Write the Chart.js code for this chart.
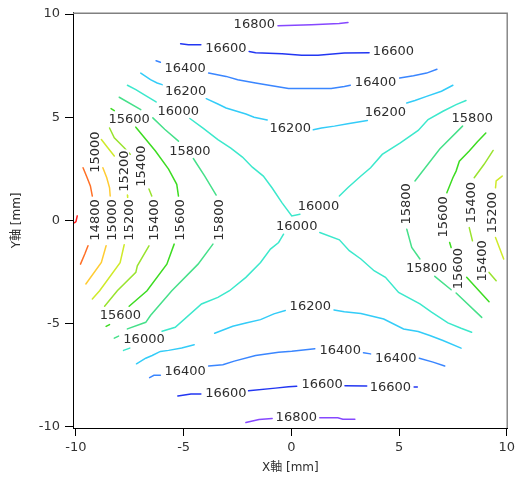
<!DOCTYPE html>
<html><head><meta charset="utf-8">
<script src="https://cdn.jsdelivr.net/npm/chart.js@4/dist/chart.umd.min.js"></script>
<style>html,body{margin:0;padding:0;background:#fff;}canvas{display:block;}</style>
</head><body>
<canvas id="c" width="519" height="477"></canvas>
<script>
// contour levels
const levels = [14600,14800,15000,15200,15400,15600,15800,16000,16200,16400,16600,16800];
const levelColors = ['#ff1a1a','#ff7026','#ffcc33','#cfea2a','#99e32e','#3ddc22','#46e08a','#3ce8cc','#33ccf8','#3a86ff','#2236f2','#8648ff'];
// contour polylines (x mm, y mm), one array of segments per level
const c14600 = [[[-9.94,0.22],[-10.0,-0.06],[-10.06,-0.11]]];
const c14800 = [
 [[-9.67,2.55],[-9.48,2.07],[-9.33,1.67],[-9.24,1.18]],
 [[-9.44,-1.23],[-9.59,-1.63],[-9.79,-2.12]]
];
const c15000 = [
 [[-8.75,2.55],[-8.57,2.07],[-8.44,1.58],[-8.41,1.18]],
 [[-8.60,-1.23],[-8.82,-2.04],[-9.54,-3.08]]
];
const c15200 = [
 [[-8.82,3.92],[-8.54,3.55],[-8.22,3.12]],
 [[-7.61,1.23],[-7.60,1.11]],
 [[-7.76,-1.18],[-7.95,-2.05],[-8.90,-3.41],[-9.24,-3.81]],
 [[9.79,2.15],[9.51,1.91],[9.48,1.58]],
 [[9.48,-0.83],[9.86,-1.87]]
];
const c15400 = [
 [[-8.44,4.48],[-8.22,4.00],[-7.76,3.52],[-7.48,3.21]],
 [[-6.61,1.52],[-6.48,1.18]],
 [[-6.61,-1.23],[-7.15,-2.20],[-7.22,-2.52],[-8.08,-3.41],[-8.67,-4.16]],
 [[9.37,3.39],[8.95,2.72],[8.49,2.07]],
 [[8.26,-0.35],[8.41,-0.99]],
 [[9.18,-2.52],[9.51,-2.92]]
];
const c15600 = [
 [[-8.37,5.42],[-8.22,5.32]],
 [[-7.22,4.52],[-6.31,3.36],[-5.70,2.49],[-5.32,1.75],[-5.24,1.18]],
 [[-5.44,-1.15],[-5.78,-2.12],[-6.70,-3.41],[-7.53,-4.16]],
 [[-8.44,-5.05],[-8.60,-5.14]],
 [[9.03,4.24],[8.64,3.81],[8.26,3.36],[7.80,2.87],[7.65,2.39],[7.50,2.07],[7.22,1.34]],
 [[7.35,-1.07],[7.42,-1.31]],
 [[8.14,-2.76],[9.18,-3.94]]
];
const c15800 = [
 [[-7.99,5.97],[-6.99,5.37]],
 [[-6.43,4.97],[-5.88,4.42],[-5.24,3.84]],
 [[-4.55,3.00],[-4.02,2.15],[-3.49,1.23]],
 [[-3.64,-1.15],[-4.33,-2.12],[-5.55,-3.41],[-6.54,-4.61],[-6.76,-4.94],[-7.61,-5.26]],
 [[-8.02,-5.61],[-8.22,-5.71]],
 [[7.95,4.57],[6.89,3.46],[5.74,1.91]],
 [[5.36,-0.43],[5.59,-1.31],[5.97,-1.87]],
 [[6.66,-2.71],[7.42,-3.36]],
 [[7.65,-3.52],[8.84,-4.70]]
];
const c16000 = [
 [[-7.61,6.55],[-7.22,6.34],[-6.84,6.10],[-6.28,5.74]],
 [[-4.71,4.94],[-4.10,4.47],[-3.41,3.92],[-2.81,3.50],[-2.27,3.07],[-1.81,2.58],[-1.30,2.15],[-0.89,1.57],[-0.43,0.85],[0.02,0.22],[0.40,0.30]],
 [[2.23,1.18],[2.62,1.58],[3.23,2.15],[3.68,2.55],[4.22,3.20],[5.06,3.76],[5.89,4.36],[6.35,4.89],[7.04,5.29],[7.65,5.61],[8.11,5.81]],
 [[-7.79,-6.30],[-7.50,-6.19]],
 [[-6.00,-5.37],[-5.39,-5.18],[-4.17,-4.05],[-3.41,-3.73],[-2.87,-3.41],[-2.11,-2.76],[-1.43,-2.04],[-0.97,-1.39],[-0.59,-1.07],[-0.36,-0.67]],
 [[1.32,-0.59],[2.23,-0.94],[2.69,-1.47],[3.23,-1.87],[3.84,-2.44],[4.37,-2.76],[4.98,-3.49],[5.97,-4.05],[6.51,-4.45],[7.27,-4.97],[7.88,-5.23],[8.37,-5.42]]
];
const c16200 = [
 [[-6.99,7.14],[-6.54,6.82],[-6.23,6.66],[-6.00,6.58]],
 [[-3.95,5.90],[-3.41,5.64],[-3.03,5.45],[-2.11,5.16],[-1.73,5.00],[-1.12,4.87]],
 [[1.02,4.39],[1.40,4.48],[2.00,4.57],[2.62,4.68],[3.53,4.84]],
 [[5.36,5.69],[5.74,5.81],[6.28,6.01],[6.97,6.26],[7.50,6.55]],
 [[-7.19,-6.95],[-6.76,-6.68],[-6.46,-6.55],[-6.08,-6.35],[-5.70,-6.30],[-5.09,-6.19],[-4.51,-6.03]],
 [[-3.56,-5.47],[-2.72,-5.13],[-2.11,-4.97],[-1.43,-4.81],[-0.81,-4.53],[-0.28,-4.37]],
 [[1.98,-4.34],[2.46,-4.43],[3.23,-4.51],[4.29,-4.78],[5.21,-5.26],[5.89,-5.39],[6.43,-5.58],[7.04,-5.82],[7.88,-6.19]]
];
const c16400 = [
 [[-6.28,7.74],[-6.08,7.67]],
 [[-3.84,7.14],[-3.03,6.98],[-2.49,6.82],[-1.66,6.66],[-0.97,6.54],[-0.13,6.39],[1.85,6.39],[2.46,6.49],[2.74,6.55]],
 [[5.03,6.90],[5.67,7.01],[6.28,7.14],[6.76,7.33]],
 [[-6.58,-7.62],[-6.38,-7.51],[-6.08,-7.51]],
 [[-3.84,-7.06],[-3.18,-7.00],[-2.65,-6.82],[-1.66,-6.55],[-0.59,-6.39],[0.02,-6.34],[1.09,-6.22]],
 [[3.35,-6.42],[3.68,-6.47]],
 [[5.94,-6.68],[6.58,-6.87],[7.12,-7.06]]
];
const c16600 = [
 [[-5.14,8.56],[-4.78,8.51],[-4.20,8.51]],
 [[-1.96,8.19],[-1.66,8.13],[-0.43,8.08],[0.48,8.01],[1.24,8.01],[2.46,8.11],[3.61,8.13]],
 [[-5.27,-8.51],[-4.66,-8.41],[-4.20,-8.41]],
 [[-1.99,-8.26],[-0.74,-8.13],[-0.13,-8.06],[0.25,-8.04]],
 [[2.49,-8.01],[3.50,-8.03]],
 [[5.70,-8.08],[5.85,-8.08]]
];
const c16800 = [
 [[-0.62,9.44],[0.94,9.48],[2.22,9.54],[2.63,9.59]],
 [[-2.11,-9.80],[-1.50,-9.65],[-0.89,-9.60]],
 [[1.32,-9.57],[2.16,-9.57],[2.39,-9.64],[2.95,-9.64]]
];
const levelLines = [c14600,c14800,c15000,c15200,c15400,c15600,c15800,c16000,c16200,c16400,c16600,c16800];

// contour labels
const labelValues = [16800,16600,16600,16400,16400,16200,16200,16200,16000,15600,15800,15800,16000,16000,15800,15600,16000,16200,16400,16400,16400,16600,16600,16600,16800,
  15000,15200,15400,14800,15000,15200,15400,15600,15800,15800,15600,15400,15200,15600,15400];
const labelX = [-1.72,-3.04,4.74,-4.93,3.91,-4.91,-0.05,4.37,-5.25,-7.53,-4.71,8.40,1.26,0.25,6.28,-7.94,-6.84,0.88,-4.93,2.27,4.85,-3.04,1.43,4.60,0.23,
  -9.13,-7.76,-6.98,-9.13,-8.32,-7.55,-6.38,-5.18,-3.33,5.33,7.07,8.34,9.31,7.76,8.86];
const labelY = [9.52,8.33,8.19,7.38,6.68,6.26,4.45,5.23,5.32,4.89,3.36,4.97,0.70,-0.27,-2.31,-4.61,-5.77,-4.16,-7.29,-6.29,-6.66,-8.37,-7.96,-8.07,-9.54,
  3.31,2.39,2.63,0.02,0.02,0.02,0.02,0.02,0.02,0.80,0.17,0.86,0.38,-2.34,-1.96];
const labelAngle = labelValues.map((v,i)=> i>=25 ? -90 : 0);

const xTicks = [-10,-5,0,5,10];
const yTicks = [-10,-5,0,5,10];

const datasets = [];
levelLines.forEach((segs,i)=>segs.forEach(seg=>datasets.push({
  label: String(levels[i]),
  data: seg.map(p=>({x:p[0],y:p[1]})),
  borderColor: levelColors[i], borderWidth: 1.5, showLine: true,
  pointRadius: 0, pointHoverRadius: 0, fill: false, tension: 0
})));

const FONT = '"DejaVu Sans", "Noto Sans CJK JP", sans-serif';
const overlay = {
  id: 'overlay',
  afterDatasetsDraw(chart){
    const ctx = chart.ctx, xs = chart.scales.x, ys = chart.scales.y, a = chart.chartArea;
    ctx.save();
    ctx.font = '13px ' + FONT;
    ctx.textAlign = 'center'; ctx.textBaseline = 'middle';
    for (let i=0;i<labelValues.length;i++){
      const px = xs.getPixelForValue(labelX[i]), py = ys.getPixelForValue(labelY[i]);
      const t = String(labelValues[i]);
      const w = ctx.measureText(t).width;
      ctx.save();
      ctx.translate(px,py);
      ctx.rotate(labelAngle[i]*Math.PI/180);
      ctx.fillStyle = '#fff';
      ctx.fillRect(-w/2-1,-5,w+2,10);
      ctx.fillStyle = '#2e2e2e';
      ctx.fillText(t,0,0.5);
      ctx.restore();
    }
    // top/right frame
    ctx.strokeStyle = '#808080'; ctx.lineWidth = 1.4;
    ctx.beginPath();
    ctx.moveTo(a.left, a.top+0.5); ctx.lineTo(a.right-0.5, a.top+0.5); ctx.lineTo(a.right-0.5, a.bottom);
    ctx.stroke();
    // axis titles
    ctx.fillStyle = '#2e2e2e';
    ctx.font = '12px ' + FONT;
    ctx.fillText('X軸 [mm]', (a.left+a.right)/2, a.bottom+40);
    ctx.translate(17,(a.top+a.bottom)/2);
    ctx.rotate(-Math.PI/2);
    ctx.fillText('Y軸 [mm]', 0, 0);
    ctx.restore();
  }
};

new Chart(document.getElementById('c'), {
  type: 'scatter',
  data: { datasets },
  plugins: [overlay],
  options: {
    responsive: false, animation: false, devicePixelRatio: 1,
    layout: { padding: { left: 0, top: 11, right: 5, bottom: 0 } },
    plugins: { legend: { display: false }, tooltip: { enabled: false } },
    elements: { line: { borderCapStyle: 'round' } },
    scales: {
      x: {
        type: 'linear', min: -10.137, max: 10.046,
        afterBuildTicks: s => { s.ticks = xTicks.map(v=>({value:v})); },
        afterFit: s => { s.height = 49; },
        grid: { display: true, drawOnChartArea: false, drawTicks: true, tickLength: 8, color: '#000', lineWidth: 1 },
        border: { display: true, color: '#000', width: 1 },
        ticks: { color: '#333', font: { family: FONT, size: 13 }, padding: 4, maxRotation: 0 }
      },
      y: {
        type: 'linear', min: -10.063, max: 10.063,
        afterBuildTicks: s => { s.ticks = yTicks.map(v=>({value:v})); },
        afterFit: s => { s.width = 73; },
        grid: { display: true, drawOnChartArea: false, drawTicks: true, tickLength: 8, color: '#000', lineWidth: 1 },
        border: { display: true, color: '#000', width: 1 },
        ticks: { color: '#333', font: { family: FONT, size: 13 }, padding: 5 }
      }
    }
  }
});
</script>
</body></html>
